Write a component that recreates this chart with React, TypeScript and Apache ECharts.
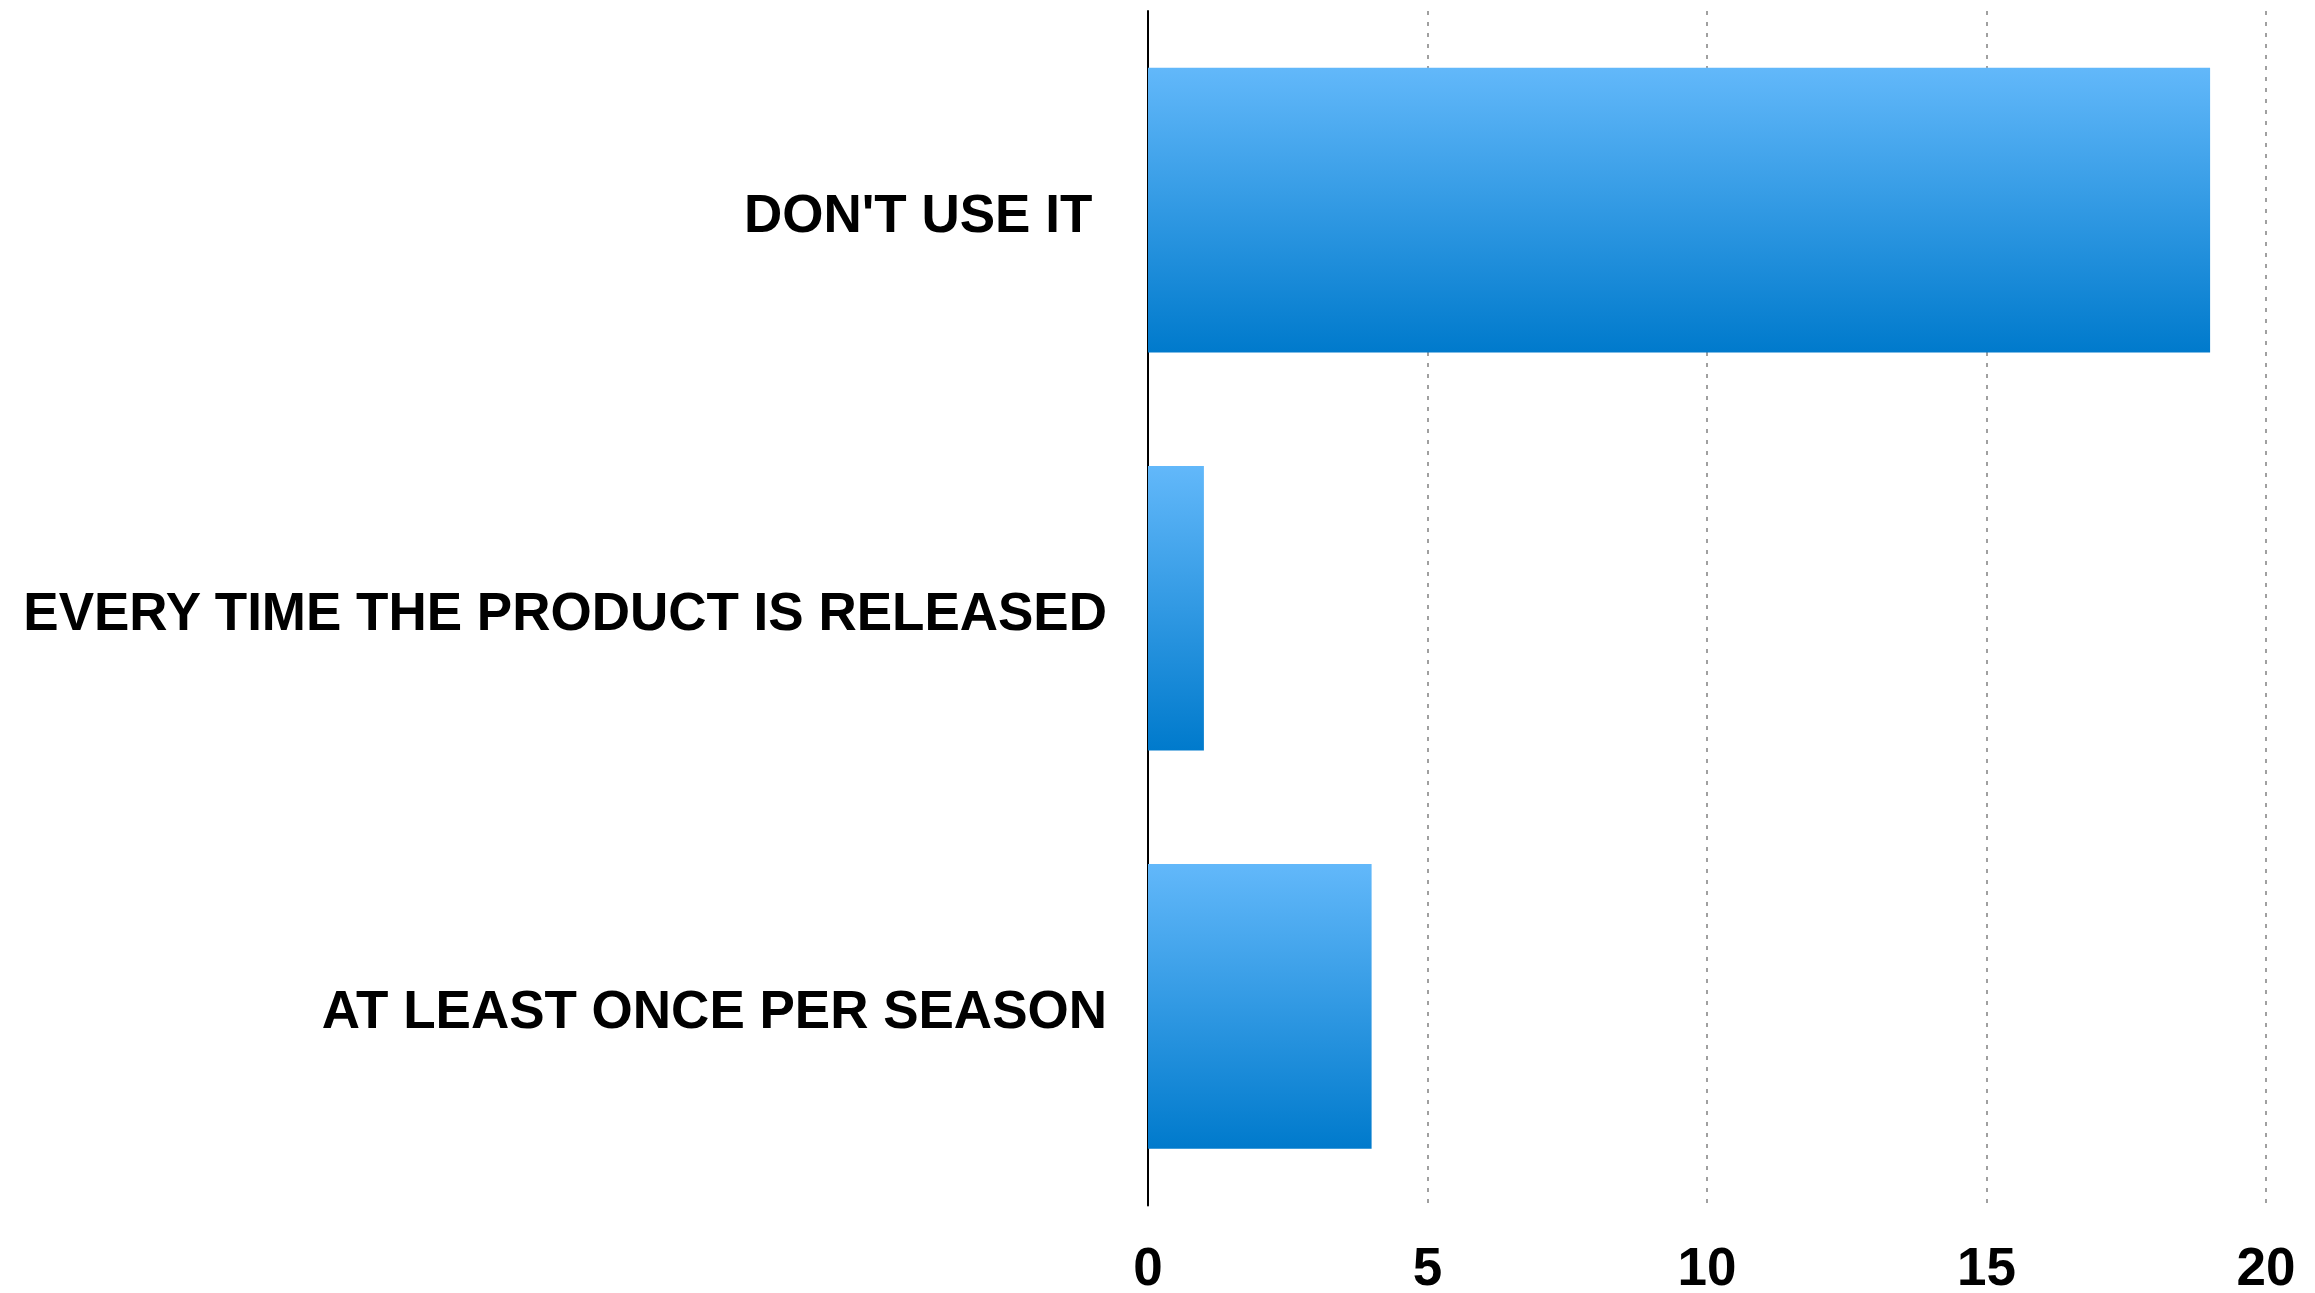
import React, { useEffect, useRef } from "react";
import * as echarts from "echarts";

const categories = ["DON'T USE IT ", "EVERY TIME THE PRODUCT IS RELEASED", "AT LEAST ONCE PER SEASON"];
const values = [19, 1, 4];
const xTicks = { min: 0, max: 20, interval: 5 };

export default function App() {
  const ref = useRef<HTMLDivElement>(null);
  useEffect(() => {
    if (!ref.current) return;
    const chart = echarts.init(ref.current, null, { renderer: "svg" });
    chart.setOption({
      animation: false,
      backgroundColor: "#ffffff",
      grid: { left: 1148, right: 49, top: 11, bottom: 86, containLabel: false },
      xAxis: {
        type: "value",
        min: xTicks.min,
        max: xTicks.max,
        interval: xTicks.interval,
        axisLine: { show: false },
        axisTick: { show: false },
        axisLabel: {
          color: "#000",
          fontFamily: "Liberation Sans",
          fontWeight: "bold",
          fontSize: 53,
          verticalAlign: "middle",
          margin: 61,
        },
        splitLine: {
          show: true,
          lineStyle: { color: "#a0a0a0", width: 2, type: [4, 7] },
        },
      },
      yAxis: {
        type: "category",
        inverse: true,
        data: categories,
        axisLine: { show: true, lineStyle: { color: "#000", width: 2 } },
        axisTick: { show: false },
        axisLabel: {
          color: "#000",
          fontFamily: "Liberation Sans",
          fontWeight: "bold",
          fontSize: 53,
          margin: 41,
          formatter: "{a|{value}}",
          rich: {
            a: {
              color: "#000",
              fontFamily: "Liberation Sans",
              fontWeight: "bold",
              fontSize: 53,
              padding: [6, 0, 0, 0],
            },
          },
        },
        splitLine: { show: false },
      },
      series: [
        {
          type: "bar",
          data: values,
          barCategoryGap: "28.5%",
          itemStyle: {
            color: new echarts.graphic.LinearGradient(0, 0, 0, 1, [
              { offset: 0, color: "#62b8fa" },
              { offset: 1, color: "#007acc" },
            ]),
          },
        },
      ],
    });
    return () => chart.dispose();
  }, []);
  return (
    <div
      ref={ref}
      style={{ position: "fixed", left: 0, top: 0, width: 2315, height: 1293 }}
    />
  );
}
